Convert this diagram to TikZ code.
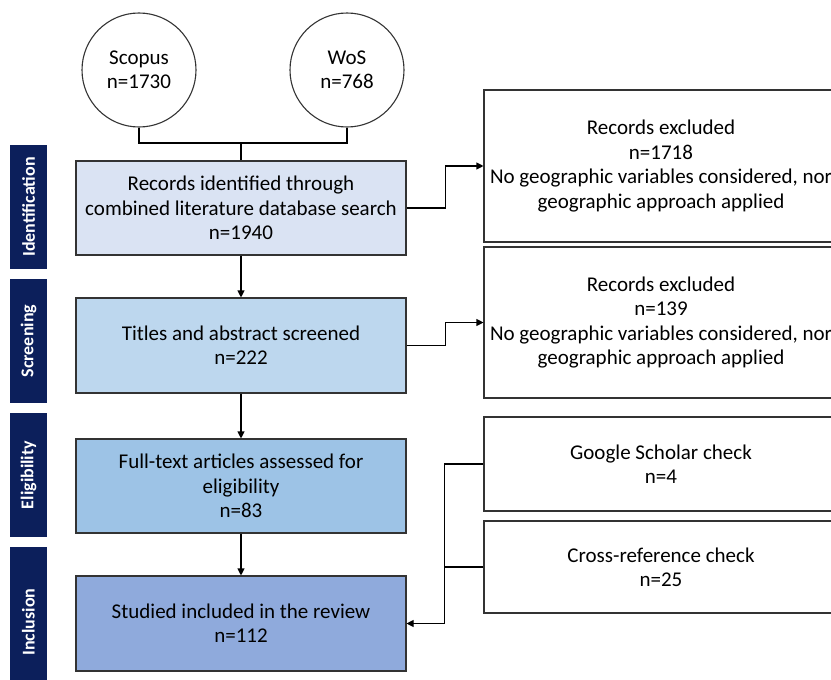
\documentclass[tikz,border=0pt]{standalone}
\usepackage{fontspec}
\setmainfont{Carlito}
\usetikzlibrary{arrows.meta}
\definecolor{stageA}{HTML}{DAE3F3}
\definecolor{stageB}{HTML}{BDD7EE}
\definecolor{stageC}{HTML}{9DC3E6}
\definecolor{stageD}{HTML}{8FAADC}
\definecolor{navy}{HTML}{0C1F5B}
\begin{document}
\begin{tikzpicture}[x=1pt,y=-1pt,>={Triangle[length=7pt,width=7pt]},line width=1.1pt,
  every node/.style={font=\fontsize{21}{24.4}\selectfont,align=center,inner sep=0pt},
  srcnode/.style={draw=black!80,circle,minimum size=114pt},
  stagebox/.style={draw=black!80,minimum width=330pt,minimum height=94pt},
  sidebox/.style={draw=black!80,minimum width=354pt},
  phase/.style={fill=navy,text=white,rotate=90,minimum height=37pt,minimum width=124pt,font=\fontsize{18}{20}\selectfont\bfseries}]
\clip (0,0) rectangle (831,680);
\node[srcnode] (scopus) at (139,70) {Scopus\\n=1730};
\node[srcnode] (wos) at (347,70) {WoS\\n=768};
\node[phase] (idn) at (28.5,207) {Identification};
\node[phase] (scr) at (28.5,341) {Screening};
\node[phase] (elg) at (28.5,475) {Eligibility};
\node[phase,minimum width=150pt] (inc) at (28.5,622) {Inclusion};
\node[stagebox,fill=stageA] (rec) at (241,208) {Records identified through\\combined literature database search\\n=1940};
\node[stagebox,fill=stageB,minimum height=95pt] (tas) at (241,345.5) {Titles and abstract screened\\n=222};
\node[stagebox,fill=stageC] (fta) at (241,486) {Full-text articles assessed for\\eligibility\\n=83};
\node[stagebox,fill=stageD,minimum height=95pt] (sir) at (241,623.5) {Studied included in the review\\n=112};
\node[sidebox,minimum height=152pt] (exa) at (661,166) {Records excluded\\n=1718\\No geographic variables considered, nor\\geographic approach applied};
\node[sidebox,minimum height=151pt] (exb) at (661,322.5) {Records excluded\\n=139\\No geographic variables considered, nor\\geographic approach applied};
\node[sidebox,minimum height=94pt] (gsc) at (661,464) {Google Scholar check\\n=4};
\node[sidebox,minimum height=92pt] (crc) at (661,567) {Cross-reference check\\n=25};
\coordinate (mrg) at (241,143);
\draw (scopus) |- (mrg) -| (wos);
\draw (mrg) -- (rec);
\draw[->] (rec) -- (tas);
\draw[->] (tas) -- (fta);
\draw[->] (fta) -- (sir);
\draw[->] (rec.east) -- ++(39,0) |- (exa.west);
\draw[->] (tas.east) -- ++(39,0) |- (exb.west);
\draw[->] (gsc.west) -- ++(-39,0) |- (sir.east);
\draw (crc.west) -- ++(-39,0);
\end{tikzpicture}
\end{document}
